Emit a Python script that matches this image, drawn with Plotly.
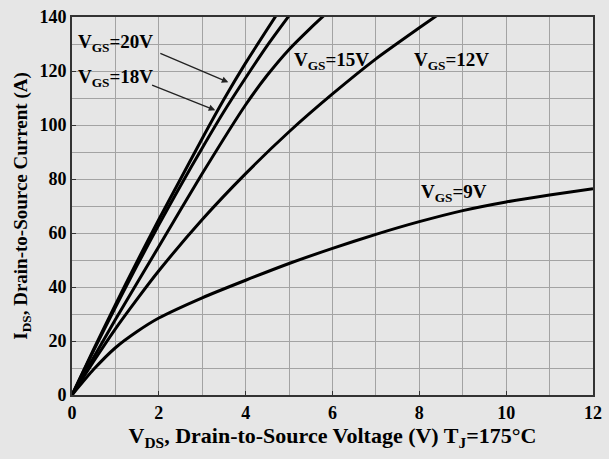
import plotly.graph_objects as go

# output characteristics, I_DS (A) vs V_DS (V), Tj = 175 C
v20 = [0, 0.5, 1, 1.5, 2, 2.5, 3, 3.5, 4, 4.7]
i20 = [0, 17, 33.5, 49.5, 65, 80, 95, 109.5, 123, 140.5]

v18 = [0, 0.5, 1, 1.5, 2, 2.5, 3, 3.5, 4, 4.5, 5.0]
i18 = [0, 16.5, 32.5, 48, 63, 77.5, 91.5, 105, 117.5, 129.5, 140.5]

v15 = [0, 1, 2, 3, 4, 4.5, 5, 5.5, 5.8]
i15 = [0, 28, 55, 82, 107.5, 118.5, 128, 136, 140.5]

v12 = [0, 0.5, 1, 1.5, 2, 3, 4, 5, 6, 7, 8, 8.4]
i12 = [0, 12.5, 24.5, 35.5, 46, 65, 82, 97.5, 111.5, 124.5, 136, 140.5]

v9 = [0, 0.5, 1, 1.5, 2, 3, 4, 5, 6, 7, 8, 9, 10, 11, 12]
i9 = [0, 9.5, 17.5, 23.5, 28.5, 36, 42.5, 48.7, 54.3, 59.5, 64.2, 68.3, 71.5, 74.1, 76.4]

x_ticks = [0, 2, 4, 6, 8, 10, 12]
y_ticks = [0, 20, 40, 60, 80, 100, 120, 140]

SERIF = "Liberation Serif"
BG = "#e6e6e6"
GRID = "#a3a3a3"

fig = go.Figure()
for vx, iy in [(v20, i20), (v18, i18), (v15, i15), (v12, i12), (v9, i9)]:
    fig.add_trace(go.Scatter(x=vx, y=iy, mode="lines",
                             line=dict(color="black", width=3, shape="spline", smoothing=0.6),
                             showlegend=False, hoverinfo="skip"))

lab_font = dict(family=SERIF, size=19, color="black")
labels = [
    ("V<sub>GS</sub>=20V", 0.09, 130.3),
    ("V<sub>GS</sub>=18V", 0.09, 117.3),
    ("V<sub>GS</sub>=15V", 5.07, 123.6),
    ("V<sub>GS</sub>=12V", 7.83, 123.6),
    ("V<sub>GS</sub>=9V", 7.99, 74.9),
]
for text, x, y in labels:
    fig.add_annotation(x=x, y=y, text="<b>" + text + "</b>", showarrow=False, xanchor="left",
                       yanchor="middle", font=lab_font)

# leader arrows for the two bunched curves
for (x0, y0), (x1, y1) in [((2.0, 126.8), (3.6, 115.8)), ((1.81, 115.0), (3.3, 105.5))]:
    fig.add_annotation(x=x1, y=y1, ax=x0, ay=y0, xref="x", yref="y", axref="x", ayref="y",
                       text="", showarrow=True, arrowhead=2, arrowsize=1, arrowwidth=1.3,
                       arrowcolor="#222")

axis_common = dict(showline=True, linecolor="#333", linewidth=2, mirror=True,
                   showgrid=True, gridcolor=GRID, gridwidth=1, ticks="inside", ticklen=4,
                   tickcolor="#333", zeroline=False, tickmode="array",
                   tickfont=dict(family=SERIF, size=18, color="black"))

fig.update_xaxes(range=[0, 12], tickvals=x_ticks, ticktext=[f"<b>{t}</b>" for t in x_ticks],
                 minor=dict(dtick=1, showgrid=True, gridcolor=GRID, gridwidth=1),
                 title=dict(text="<b>V<sub>DS</sub>, Drain-to-Source Voltage (V) T<sub>J</sub>=175°C</b>",
                            font=dict(family=SERIF, size=22, color="black"), standoff=6),
                 **axis_common)
fig.update_yaxes(range=[0, 140], tickvals=y_ticks, ticktext=[f"<b>{t}</b>" for t in y_ticks],
                 minor=dict(dtick=10, showgrid=True, gridcolor=GRID, gridwidth=1),
                 title=dict(text="<b>I<sub>DS</sub>, Drain-to-Source Current (A)</b>",
                            font=dict(family=SERIF, size=19, color="black"), standoff=7),
                 **axis_common)

fig.update_layout(width=609, height=459, paper_bgcolor=BG, plot_bgcolor=BG,
                  margin=dict(l=72, r=7, t=14, b=64))

# drop the browser's default body margin so the figure sits at the page corner
fig.write_html("out.html", config={"displayModeBar": False},
               post_script="document.body.style.margin='0';document.body.style.background='%s';" % BG)
